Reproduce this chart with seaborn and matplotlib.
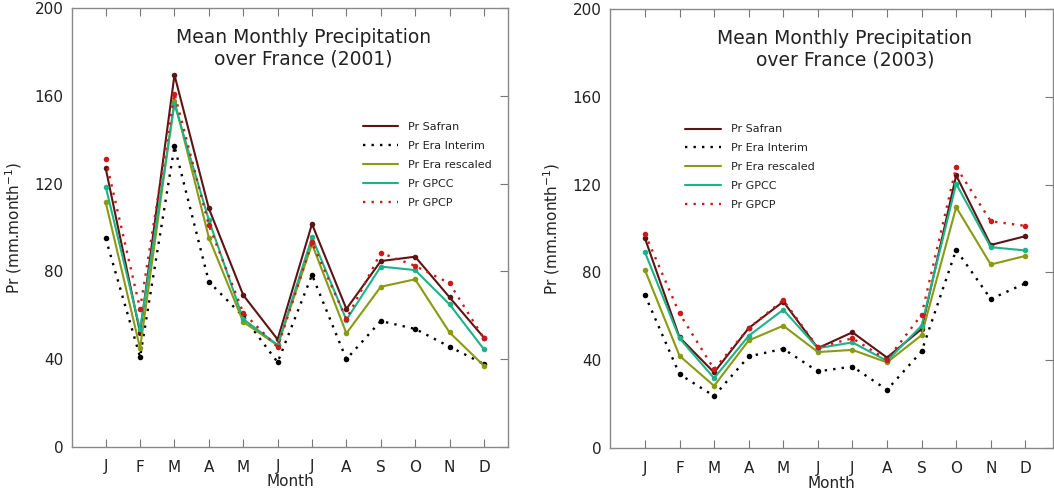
import matplotlib
matplotlib.use("Agg")
import matplotlib.pyplot as plt
from matplotlib.lines import Line2D
import seaborn as sns
import pandas as pd
import numpy as np

months = ["J", "F", "M", "A", "M", "J", "J", "A", "S", "O", "N", "D"]
series_names = ["Pr Safran", "Pr Era Interim", "Pr Era rescaled", "Pr GPCC", "Pr GPCP"]

safran_2001 = [127, 52, 169.5, 108.7, 69.2, 49, 101.6, 62.9, 84.7, 86.7, 68.2, 49.8]
era_2001 = [95, 41, 137, 75.3, 59.5, 38.6, 78.4, 40, 57.4, 53.8, 45.7, 37.8]
rescaled_2001 = [111.5, 45, 157.8, 95.4, 57, 46.3, 92.5, 51.8, 73, 76.4, 52.2, 37]
gpcc_2001 = [118.6, 53.6, 156.3, 103.4, 58.3, 46.5, 95.5, 57.9, 82.2, 80.6, 65, 44.5]
gpcp_2001 = [131, 62.9, 161, 101.1, 61.2, 45.4, 93.2, 58.3, 88.5, 82.5, 74.6, 49.5]

safran_2003 = [95.6, 50.4, 34.4, 54.6, 66.7, 45.5, 52.7, 41.2, 54.2, 124.2, 92.5, 96.5]
era_2003 = [69.7, 33.6, 23.7, 41.7, 45.2, 34.9, 37.1, 26.5, 44, 90.3, 67.9, 75]
rescaled_2003 = [81.1, 42, 28.3, 49, 55.7, 43.7, 44.7, 39, 51.4, 109.7, 83.6, 87.5]
gpcc_2003 = [89.2, 50, 31.8, 51.1, 63, 45.5, 48.1, 39.7, 55.7, 120.4, 91.5, 90]
gpcp_2003 = [97.6, 61.3, 35.9, 54.6, 67.4, 45.8, 50, 40.2, 60.7, 128, 103.3, 101.2]

titles = ["Mean Monthly Precipitation\nover France (2001)",
          "Mean Monthly Precipitation\nover France (2003)"]
yticks = [0, 40, 80, 120, 160, 200]

colors = ["#5c1414", "#000000", "#8a9a12", "#1db388", "#cc1a1a"]
dotted = (0, (1, 2.6))
styles = ["-", dotted, "-", "-", dotted]

sns.set_style("white")
plt.rcParams["font.family"] = ["DejaVu Sans"]

fig = plt.figure(figsize=(10.54, 4.9), dpi=100)
ax1 = fig.add_axes([72 / 1054, 1 - 447 / 490, (508 - 72) / 1054, 439 / 490])
ax2 = fig.add_axes([610 / 1054, 1 - 448 / 490, (1053 - 610) / 1054, 439 / 490])

data_sets = [
    [safran_2001, era_2001, rescaled_2001, gpcc_2001, gpcp_2001],
    [safran_2003, era_2003, rescaled_2003, gpcc_2003, gpcp_2003],
]
xlims = [(0.02, 12.7), (-0.01, 12.8)]
legend_anchor = [(0.667, 0.740), (0.17, 0.737)]

x = np.arange(1, 13)
for ax, ds, title, xl, la in zip([ax1, ax2], data_sets, titles, xlims, legend_anchor):
    for name, vals, c, ls in zip(series_names, ds, colors, styles):
        df = pd.DataFrame({"month": x, "value": vals})
        sns.lineplot(data=df, x="month", y="value", ax=ax, color=c,
                     linestyle=ls, linewidth=1.5 if ls == "-" else 1.7,
                     marker="o", markersize=4, markeredgewidth=0,
                     legend=False)
    ax.set_xlim(*xl)
    ax.set_ylim(0, 200)
    ax.set_xticks(x)
    ax.set_xticklabels(months, fontsize=11)
    ax.set_yticks(yticks)
    ax.set_yticklabels([str(v) for v in yticks], fontsize=11)
    ax.tick_params(axis="x", direction="in", length=6, top=True, bottom=True,
                   pad=9, color="#777777", labelcolor="#222222")
    ax.tick_params(axis="y", direction="in", length=6, left=False, right=True,
                   pad=6, color="#777777", labelcolor="#222222")
    for s in ax.spines.values():
        s.set_color("#888888")
        s.set_linewidth(1.0)
    ax.set_xlabel("Month", fontsize=11, color="#222222", labelpad=0)
    ax.set_ylabel("Pr (mm.month$^{-1}$)", fontsize=11, color="#222222", labelpad=8)
    ax.text(0.53, 0.955, title, transform=ax.transAxes, ha="center", va="top",
            fontsize=13.5, color="#222222", linespacing=1.15)
    handles = [Line2D([], [], color=c, linestyle=ls,
                      linewidth=1.5 if ls == "-" else 1.7)
               for c, ls in zip(colors, styles)]
    leg = ax.legend(handles, series_names, loc="upper left", bbox_to_anchor=la,
                    frameon=False, fontsize=8, handlelength=3.2,
                    handletextpad=0.9, labelspacing=0.8, borderpad=0,
                    borderaxespad=0)
    for t in leg.get_texts():
        t.set_color("#222222")

fig.savefig("out.png", dpi=100, facecolor="white")
